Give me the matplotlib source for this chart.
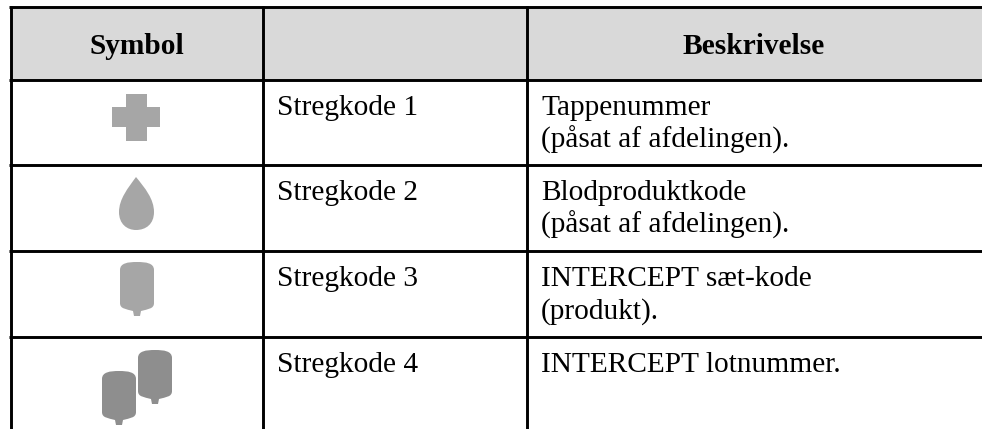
import matplotlib
matplotlib.use("Agg")
import matplotlib.pyplot as plt
from matplotlib.patches import PathPatch, Polygon, Rectangle
from matplotlib.path import Path

headers = ["Symbol", "", "Beskrivelse"]
codes = ["Stregkode 1", "Stregkode 2", "Stregkode 3", "Stregkode 4"]
descriptions = [
    "Tappenummer\n(påsat af afdelingen).",
    "Blodproduktkode\n(påsat af afdelingen).",
    "INTERCEPT sæt-kode\n(produkt).",
    "INTERCEPT lotnummer.",
]

W, H = 982, 429
col_lines = [11, 263, 527]
row_lines = [7, 80, 165, 251, 337]
LIGHT = "#a6a6a6"
DARK = "#8e8e8e"
FONT_SIZE = 21.2

plt.rcParams["font.family"] = ["Liberation Serif", "DejaVu Serif"]

fig = plt.figure(figsize=(W / 100, H / 100), dpi=100)
ax = fig.add_axes([0, 0, 1, 1])
ax.set_xlim(0, W)
ax.set_ylim(H, 0)
ax.axis("off")


def draw_bag(x0, y0, color):
    # bag outline, 34 wide and 54 tall with the nozzle
    C = Path.CURVE4
    verts = [
        (x0, y0 + 8),
        (x0, y0 + 1), (x0 + 8, y0), (x0 + 17, y0),
        (x0 + 26, y0), (x0 + 34, y0 + 1), (x0 + 34, y0 + 8),
        (x0 + 34, y0 + 41),
        (x0 + 34, y0 + 47), (x0 + 28, y0 + 47), (x0 + 21, y0 + 49),
        (x0 + 20, y0 + 54),
        (x0 + 14, y0 + 54),
        (x0 + 13, y0 + 49),
        (x0 + 6, y0 + 47), (x0, y0 + 47), (x0, y0 + 41),
        (x0, y0 + 8),
    ]
    L = Path.LINETO
    kinds = [Path.MOVETO, C, C, C, C, C, C, L, C, C, C, L, L, L, C, C, C, Path.CLOSEPOLY]
    ax.add_patch(PathPatch(Path(verts, kinds), fc=color, ec="none"))


# header band
ax.add_patch(Rectangle((col_lines[0], row_lines[0]), W - col_lines[0], row_lines[1] - row_lines[0],
                       fc="#d9d9d9", ec="none"))

# grid lines
for y in row_lines:
    ax.plot([col_lines[0] - 1.5, W], [y, y], color="black", lw=2.1, solid_capstyle="butt")
for x in col_lines:
    ax.plot([x, x], [row_lines[0] - 1, H], color="black", lw=2.1, solid_capstyle="butt")

# header text
ax.text(137, 54, headers[0], ha="center", va="baseline", fontsize=FONT_SIZE, fontweight="bold")
ax.text(754, 54, headers[2], ha="center", va="baseline", fontsize=FONT_SIZE, fontweight="bold")

# body text
for i in range(4):
    ax.text(277, row_lines[i + 1] + 35, codes[i], ha="left", va="baseline", fontsize=FONT_SIZE)
    lines = descriptions[i].split("\n")
    for j, line in enumerate(lines):
        ax.text(541, row_lines[i + 1] + 35 + j * 33, line, ha="left", va="baseline", fontsize=FONT_SIZE)

# symbols
cross = [(126, 94), (147, 94), (147, 107), (160, 107), (160, 127), (147, 127), (147, 141),
         (126, 141), (126, 127), (112, 127), (112, 107), (126, 107)]
ax.add_patch(Polygon(cross, closed=True, fc=LIGHT, ec="none"))

drop = Path(
    [(136, 177), (128, 188), (119, 199), (119, 212), (119, 224), (127, 230), (136, 230),
     (146, 230), (154, 224), (154, 212), (154, 199), (145, 188), (136, 177)],
    [Path.MOVETO] + [Path.CURVE4] * 12,
)
ax.add_patch(PathPatch(drop, fc=LIGHT, ec="none"))

draw_bag(120, 262, LIGHT)
draw_bag(102, 371, DARK)
draw_bag(138, 350, DARK)

fig.savefig("out.png", dpi=100)
